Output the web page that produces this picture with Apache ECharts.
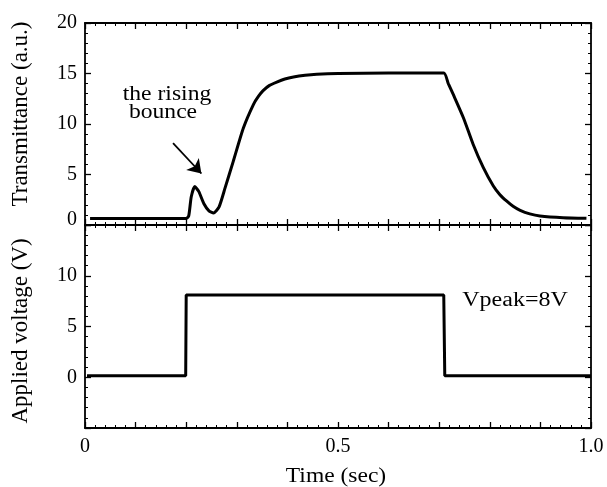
<!DOCTYPE html>
<html>
<head>
<meta charset="utf-8">
<script src="https://cdn.jsdelivr.net/npm/echarts@6/dist/echarts.min.js"></script>
<style>html,body{margin:0;padding:0;background:#fff}#c{width:607px;height:487px}</style>
</head>
<body>
<div id="c"></div>
<script>
// Transmittance curve (top panel)
var transTime = [0.01, 0.10, 0.20, 0.205, 0.21, 0.217, 0.225, 0.235, 0.245, 0.254, 0.265, 0.277, 0.293, 0.313, 0.333, 0.343, 0.352, 0.364, 0.379, 0.395, 0.412, 0.435, 0.458, 0.50, 0.60, 0.709, 0.718, 0.728, 0.748, 0.767, 0.787, 0.807, 0.82, 0.833, 0.846, 0.86, 0.879, 0.899, 0.945, 0.991];
var transValue = [0.65, 0.65, 0.65, 0.9, 2.8, 3.8, 3.3, 2.1, 1.4, 1.2, 1.8, 3.7, 6.3, 9.6, 11.95, 12.75, 13.3, 13.8, 14.15, 14.45, 14.65, 14.82, 14.92, 15.0, 15.05, 15.05, 14.0, 12.9, 10.6, 8.0, 5.7, 3.86, 3.0, 2.38, 1.85, 1.45, 1.1, 0.89, 0.72, 0.66];
// Applied voltage (bottom panel)
var voltTime = [0.004, 0.199, 0.200, 0.709, 0.711, 1.0];
var voltValue = [0.15, 0.15, 8.1, 8.1, 0.15, 0.15];
// Tick labels
var xTickLabels = {'0': '0', '0.5': '0.5', '1': '1.0'};
var topYTicks = [0, 5, 10, 15, 20];
var botYTicks = [0, 5, 10];

function pairs(a, b) { return a.map(function (v, i) { return [v, b[i]]; }); }

var FONT = 'Liberation Serif';
var axisLine = { onZero: false, lineStyle: { color: '#000', width: 1.8 } };
var tick = { inside: true, length: 6, lineStyle: { color: '#000', width: 1.3 } };
var minor = { show: true, splitNumber: 5, length: 3, lineStyle: { color: '#000', width: 1 } };

function xAx(grid, pos, labels) {
  return {
    type: 'value', gridIndex: grid, position: pos, min: 0, max: 1, interval: 0.1,
    axisLine: axisLine, axisTick: tick, minorTick: minor, splitLine: { show: false },
    axisLabel: labels ? {
      show: true, color: '#000', fontFamily: FONT, fontSize: 20, margin: 9,
      formatter: function (v) {
        var k = String(Math.round(v * 10) / 10);
        return xTickLabels[k] !== undefined ? xTickLabels[k] : '';
      }
    } : { show: false }
  };
}
function yAx(grid, pos, min, max, ticks) {
  return {
    type: 'value', gridIndex: grid, position: pos, min: min, max: max, interval: 5,
    axisLine: axisLine, axisTick: tick, minorTick: minor, splitLine: { show: false },
    axisLabel: ticks ? {
      show: true, color: '#000', fontFamily: FONT, fontSize: 20, margin: 8,
      formatter: function (v) {
        if (ticks.indexOf(v) < 0) return '';
        if (grid === 0 && v === 0) return '{z|0}';
        return String(v);
      },
      rich: { z: { fontFamily: FONT, fontSize: 20, color: '#000', padding: [0, 0, 10, 0] } }
    } : { show: false }
  };
}

var chart = echarts.init(document.getElementById('c'), null, { renderer: 'canvas' });
chart.setOption({
  backgroundColor: '#fff',
  animation: false,
  grid: [
    { left: 85, right: 16, top: 23, height: 202 },
    { left: 85, right: 16, top: 225, height: 203 }
  ],
  xAxis: [xAx(0, 'bottom', false), xAx(0, 'top', false), xAx(1, 'bottom', true), xAx(1, 'top', false)],
  yAxis: [yAx(0, 'left', 0, 20, topYTicks), yAx(0, 'right', 0, 20, null),
          yAx(1, 'left', -5, 15, botYTicks), yAx(1, 'right', -5, 15, null)],
  series: [
    {
      type: 'line', xAxisIndex: 0, yAxisIndex: 0, data: pairs(transTime, transValue),
      showSymbol: false, smooth: 0.2,
      lineStyle: { color: '#000', width: 3 },
      markLine: {
        silent: true, symbol: ['none', 'arrow'], symbolSize: 13,
        lineStyle: { color: '#000', width: 1.8, type: 'solid' }, label: { show: false },
        data: [[{ coord: [0.174, 8.1] }, { coord: [0.23, 5.1] }]]
      }
    },
    {
      type: 'line', xAxisIndex: 2, yAxisIndex: 2, data: pairs(voltTime, voltValue),
      showSymbol: false, lineStyle: { color: '#000', width: 3 }
    }
  ],
  graphic: [
    { type: 'text', x: 167, y: 95, scaleX: 1.18, style: { text: 'the rising', font: '20px "Liberation Serif"', fill: '#000', align: 'center', verticalAlign: 'middle' } },
    { type: 'text', x: 163, y: 113, scaleX: 1.18, style: { text: 'bounce', font: '20px "Liberation Serif"', fill: '#000', align: 'center', verticalAlign: 'middle' } },
    { type: 'text', x: 515, y: 301, scaleX: 1.2, style: { text: 'Vpeak=8V', font: '20px "Liberation Serif"', fill: '#000', align: 'center', verticalAlign: 'middle' } },
    { type: 'text', x: 336, y: 476, scaleX: 1.12, style: { text: 'Time (sec)', font: '21px "Liberation Serif"', fill: '#000', align: 'center', verticalAlign: 'middle' } },
    { type: 'text', x: 21, y: 114, rotation: Math.PI / 2, style: { text: 'Transmittance (a.u.)', font: '23px "Liberation Serif"', fill: '#000', align: 'center', verticalAlign: 'middle' } },
    { type: 'text', x: 21, y: 331, rotation: Math.PI / 2, style: { text: 'Applied voltage (V)', font: '23px "Liberation Serif"', fill: '#000', align: 'center', verticalAlign: 'middle' } }
  ]
});
</script>
</body>
</html>
